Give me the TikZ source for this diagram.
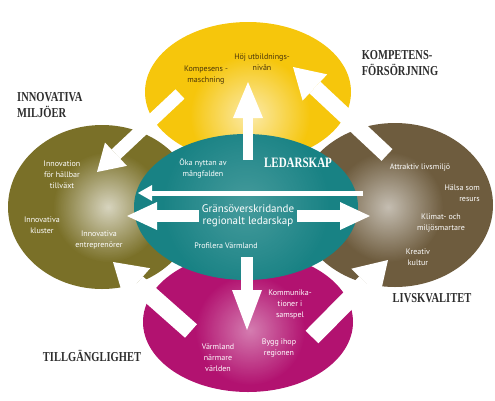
\documentclass[tikz,border=0pt]{standalone}
\usepackage{fontspec}
\usepackage{graphicx}
\usepackage{tikz}
\usetikzlibrary{arrows.meta,fadings}
\newfontfamily\labfont{PT Sans}
\newfontfamily\headfont{Liberation Serif}
\definecolor{gul}{RGB}{246,198,12}
\definecolor{oliv}{RGB}{122,112,40}
\definecolor{brun}{RGB}{110,92,62}
\definecolor{turkos}{RGB}{24,130,132}
\definecolor{lila}{RGB}{178,18,112}
\definecolor{rubrik}{RGB}{45,45,45}
\definecolor{gultext}{RGB}{72,52,10}
\tikzfading[name=glowfade, inner color=transparent!0, outer color=transparent!100]
\newcommand{\tall}[1]{\scalebox{1}[1.3]{#1}}

\begin{document}
\begin{tikzpicture}[x=1pt,y=-1pt,
		lbl/.style={font=\labfont\fontsize{8}{11}\selectfont,text=white,align=center,inner sep=0pt},
		ttl/.style={font=\headfont\bfseries\fontsize{10.5}{16}\selectfont,text=rubrik,align=left,inner sep=0pt},
		pil/.style n args={3}{draw=white,line width=#1,-{Triangle[width=#2,length=#3,line width=0pt]}}]
		\useasboundingbox (0,0) rectangle (495,400);
		\fill[gul] (248,92) ellipse [x radius=103, y radius=70];
		\begin{scope}
			\clip (248,92) ellipse [x radius=103, y radius=70];
			\fill[white,path fading=glowfade,fill opacity=0.65] (250,115) circle (60);
		\end{scope}
		\fill[oliv] (102,207) ellipse [x radius=94, y radius=82];
		\begin{scope}
			\clip (102,207) ellipse [x radius=94, y radius=82];
			\fill[white,path fading=glowfade,fill opacity=0.7] (108,207) circle (55);
		\end{scope}
		\fill[brun] (395,205) ellipse [x radius=98, y radius=82];
		\begin{scope}
			\clip (395,205) ellipse [x radius=98, y radius=82];
			\fill[white,path fading=glowfade,fill opacity=0.6] (388,207) circle (55);
		\end{scope}
		\fill[lila] (248,322) ellipse [x radius=105, y radius=70];
		\begin{scope}
			\clip (248,322) ellipse [x radius=105, y radius=70];
			\fill[white,path fading=glowfade,fill opacity=0.45] (250,330) circle (55);
		\end{scope}
		\fill[turkos] (246,207) ellipse [x radius=112, y radius=73];
		\begin{scope}
			\clip (246,207) ellipse [x radius=112, y radius=73];
			\fill[white,path fading=glowfade,fill opacity=0.2] (246,205) circle (85);
		\end{scope}

		\node[lbl,text=gultext] (hoj) at (262,62) {Höj utbildnings-\\nivån};
		\node[lbl,text=gultext] (komp) at (206,75) {Kompesens -\\maschning};
		\node[lbl] (inno) at (62,175) {Innovation\\för hällbar\\tillväxt};
		\node[lbl] (klus) at (42,225) {Innovativa\\kluster};
		\node[lbl] (entr) at (99,240) {Innovativa\\entreprenörer};
		\node[lbl] (attr) at (420,167) {Attraktiv livsmiljö};
		\node[lbl,align=right,anchor=east] (hals) at (480,193) {Hälsa som\\resurs};
		\node[lbl] (klim) at (441,223) {Klimat- och\\miljösmartare};
		\node[lbl] (krea) at (418,257) {Kreativ\\kultur};
		\node[lbl] (oka) at (203,168) {Öka nyttan av\\mångfalden};
		\node[lbl,font=\labfont\fontsize{11}{12}\selectfont,inner sep=3pt] (gr) at (248,216) {Gränsöverskridande\\regionalt ledarskap};
		\node[lbl] (prof) at (226,246) {Profilera Värmland};
		\node[lbl] (komm) at (290,304) {Kommunika-\\tioner i\\samspel};
		\node[lbl] (bygg) at (279,348) {Bygg ihop\\regionen};
		\node[lbl] (varm) at (218,358) {Värmland\\närmare\\världen};

		\node[ttl,anchor=west] (innomil) at (17,105) {\tall{INNOVATIVA}\\\tall{MILJÖER}};
		\node[ttl] (kompf) at (400,63) {\tall{KOMPETENS-}\\\tall{FÖRSÖRJNING}};
		\node[ttl] (livs) at (432,298) {\tall{LIVSKVALITET}};
		\node[ttl] (tillg) at (92,356) {\tall{TILLGÄNGLIGHET}};
		\node[ttl,text=white,font=\headfont\bfseries\fontsize{11}{13}\selectfont] (led) at (298,163) {\tall{LEDARSKAP}};

		\coordinate (upA) at (248,160);
		\coordinate (upB) at (248,82);
		\coordinate (thinA) at (363,193);
		\coordinate (thinB) at (138,193);
		\coordinate (grL) at (127,216);
		\coordinate (grR) at (370,216);
		\coordinate (downA) at (247,257);
		\coordinate (downB) at (247,330);
		\coordinate (tlA) at (180,94);
		\coordinate (tlB) at (97,172);
		\coordinate (trA) at (387,155);
		\coordinate (trB) at (293,67);
		\coordinate (brA) at (312,337);
		\coordinate (brB) at (388,260);
		\coordinate (blA) at (191,331);
		\coordinate (blB) at (113,262);

		\draw[pil={10pt}{30pt}{36pt}] (upA) -- (upB);
		\draw[pil={5pt}{16pt}{14pt}] (thinA) -- (thinB);
		\draw[pil={12pt}{28pt}{30pt}] (gr.west) -- (grL);
		\draw[pil={12pt}{28pt}{30pt}] (gr.east) -- (grR);
		\draw[pil={12pt}{30pt}{40pt}] (downA) -- (downB);
		\draw[pil={13pt}{32pt}{26pt}] (tlA) -- (tlB);
		\draw[pil={16pt}{36pt}{30pt}] (trA) -- (trB);
		\draw[pil={18pt}{40pt}{32pt}] (brA) -- (brB);
		\draw[pil={18pt}{40pt}{32pt}] (blA) -- (blB);
	\end{tikzpicture}
\end{document}
